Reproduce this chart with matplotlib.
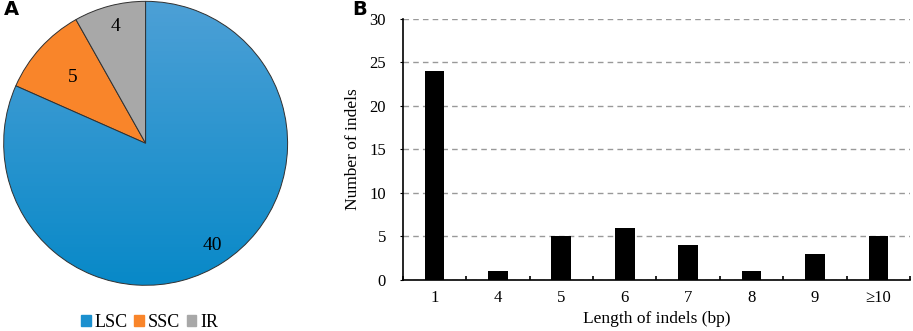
import numpy as np
import matplotlib
matplotlib.use("Agg")
import matplotlib.pyplot as plt
from matplotlib.colors import LinearSegmentedColormap
from matplotlib.patches import Patch

plt.rcParams['font.family'] = ['Liberation Serif', 'DejaVu Serif']

# pie data
regions = ["LSC", "SSC", "IR"]
region_counts = [40, 5, 4]
region_colors = ["#1b90cf", "#f9852a", "#a8a8a8"]
label_radius = [0.86, 0.69, 0.85]

# bar data
lengths = ["1", "4", "5", "6", "7", "8", "9", "\u226510"]
indel_counts = [24, 1, 5, 6, 4, 1, 3, 5]

fig = plt.figure(figsize=(9.13, 3.31), dpi=100)

# ---- panel A: pie
ax1 = fig.add_axes([0.004, 0.138, 0.311, 0.858])
wedges, _ = ax1.pie(region_counts, colors=region_colors, startangle=90,
                    counterclock=False,
                    wedgeprops=dict(edgecolor="#303030", linewidth=0.7))
ax1.set_xlim(-1, 1)
ax1.set_ylim(-1, 1)
ax1.set_aspect("equal")

# light-to-dark gradient on the big slice
grad = np.linspace(0, 1, 256).reshape(-1, 1)
cmap = LinearSegmentedColormap.from_list("b", ["#4da0d6", "#0889c8"])
im = ax1.imshow(grad, cmap=cmap, extent=[-1, 1, -1, 1], origin="upper",
                aspect="auto", zorder=wedges[0].get_zorder())
im.set_clip_path(wedges[0])
wedges[0].set_facecolor("none")
wedges[0].set_zorder(im.get_zorder() + 1)

for w, n, r in zip(wedges, region_counts, label_radius):
    ang = np.deg2rad((w.theta1 + w.theta2) / 2)
    ax1.text(r * np.cos(ang), r * np.sin(ang), str(n), ha="center",
             va="center", fontsize=14, zorder=5)

handles = [Patch(color=c, label=l) for c, l in zip(region_colors, regions)]
fig.legend(handles=handles, loc="center", bbox_to_anchor=(0.164, 0.025),
           ncol=3, frameon=False, fontsize=13, handlelength=0.55,
           handleheight=0.55, handletextpad=0.2, columnspacing=0.35)

fig.text(0.004, 0.955, "A", fontsize=14, fontweight="bold",
         family="DejaVu Sans")
fig.text(0.386, 0.955, "B", fontsize=14, fontweight="bold",
         family="DejaVu Sans")

# ---- panel B: bars
ax2 = fig.add_axes([0.441, 0.154, 0.556, 0.789])
x = np.arange(len(lengths))
ax2.bar(x, indel_counts, width=0.31, color="black", zorder=3)
ax2.set_xlim(-0.5, len(lengths) - 0.5)
ax2.set_ylim(0, 30)
ax2.set_yticks(range(0, 31, 5))
ax2.set_xticks(x)
ax2.set_xticklabels(lengths)
ax2.set_xticks(np.arange(len(lengths) + 1) - 0.5, minor=True)
ax2.tick_params(axis="x", which="major", length=0, labelsize=12, pad=7)
ax2.tick_params(axis="x", which="minor", length=3, direction="in",
                width=1.2)
ax2.tick_params(axis="y", length=2, labelsize=12, pad=10)
ax2.yaxis.grid(True, linestyle=(0, (4, 3)), color="#999999", linewidth=1.0)
for s in ["top", "right"]:
    ax2.spines[s].set_visible(False)
ax2.spines["left"].set_linewidth(1.2)
ax2.spines["bottom"].set_linewidth(1.2)
ax2.set_ylabel("Number of indels", fontsize=12.5, labelpad=6)
ax2.set_xlabel("Length of indels (bp)", fontsize=12.5, labelpad=4)

fig.savefig("out.png", dpi=100)
